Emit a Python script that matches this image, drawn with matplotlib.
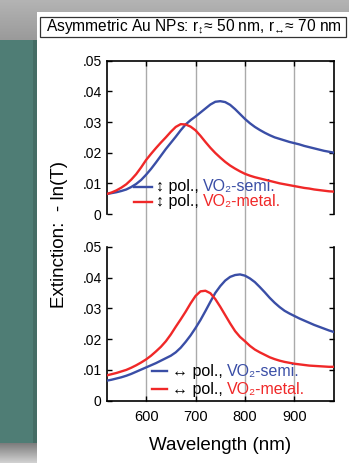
import matplotlib
matplotlib.use('Agg')
import matplotlib.pyplot as plt
import numpy as np
from matplotlib.patches import Rectangle
from matplotlib.lines import Line2D
from matplotlib.transforms import Affine2D

plt.rcParams['font.family'] = ['Liberation Sans', 'DejaVu Sans']
plt.rcParams['mathtext.fontset'] = 'custom'
plt.rcParams['mathtext.rm'] = 'Liberation Sans'
plt.rcParams['mathtext.it'] = 'Liberation Sans:italic'
plt.rcParams['mathtext.bf'] = 'Liberation Sans:bold'

# ---------------- data ----------------
wl = [520, 530, 540, 550, 560, 570, 580, 590, 600, 610, 620, 630, 640, 650,
      660, 670, 680, 690, 700, 710, 720, 730, 740, 750, 760, 770, 780, 790,
      800, 810, 820, 830, 840, 850, 860, 870, 880, 890, 900, 910, 920, 930,
      940, 950, 960, 970, 980]

# top panel (vertical polarisation)
top_semi = [0.0065, 0.0068, 0.0071, 0.0075, 0.0080, 0.0088, 0.0098, 0.0111,
            0.0128, 0.0147, 0.0168, 0.0190, 0.0212, 0.0232, 0.0252, 0.0273,
            0.0292, 0.0306, 0.0318, 0.0331, 0.0344, 0.0357, 0.0366, 0.0368,
            0.0365, 0.0356, 0.0342, 0.0326, 0.0310, 0.0296, 0.0284, 0.0274,
            0.0265, 0.0257, 0.0250, 0.0245, 0.0240, 0.0235, 0.0231, 0.0227,
            0.0222, 0.0218, 0.0214, 0.0210, 0.0206, 0.0203, 0.0200]
top_metal = [0.0065, 0.0070, 0.0077, 0.0086, 0.0097, 0.0112, 0.0130, 0.0152,
             0.0176, 0.0196, 0.0215, 0.0233, 0.0250, 0.0268, 0.0284, 0.0293,
             0.0292, 0.0285, 0.0273, 0.0255, 0.0235, 0.0216, 0.0199, 0.0184,
             0.0170, 0.0158, 0.0148, 0.0139, 0.0131, 0.0125, 0.0120, 0.0116,
             0.0112, 0.0108, 0.0104, 0.0100, 0.0097, 0.0094, 0.0091, 0.0088,
             0.0085, 0.0083, 0.0080, 0.0078, 0.0076, 0.0074, 0.0073]

# bottom panel (horizontal polarisation)
bot_semi = [0.0065, 0.0068, 0.0072, 0.0076, 0.0081, 0.0087, 0.0094, 0.0101,
            0.0108, 0.0115, 0.0122, 0.0130, 0.0138, 0.0146, 0.0157, 0.0172,
            0.0191, 0.0212, 0.0236, 0.0262, 0.0291, 0.0321, 0.0350, 0.0372,
            0.0390, 0.0402, 0.0408, 0.0410, 0.0406, 0.0397, 0.0385, 0.0369,
            0.0352, 0.0334, 0.0318, 0.0304, 0.0292, 0.0283, 0.0275, 0.0267,
            0.0260, 0.0253, 0.0246, 0.0240, 0.0234, 0.0228, 0.0223]
bot_metal = [0.0082, 0.0086, 0.0090, 0.0095, 0.0100, 0.0107, 0.0115, 0.0124,
             0.0134, 0.0146, 0.0160, 0.0175, 0.0193, 0.0215, 0.0240, 0.0264,
             0.0289, 0.0316, 0.0340, 0.0355, 0.0357, 0.0349, 0.0330, 0.0305,
             0.0278, 0.0251, 0.0226, 0.0207, 0.0193, 0.0178, 0.0166, 0.0157,
             0.0149, 0.0141, 0.0135, 0.0130, 0.0126, 0.0123, 0.0120, 0.0118,
             0.0116, 0.0114, 0.0113, 0.0112, 0.0111, 0.0110, 0.0110]

xticks = [600, 700, 800, 900]
xtick_labels = ['600', '700', '800', '900']
yticks = [0, 0.01, 0.02, 0.03, 0.04, 0.05]
ytick_labels = ['0', '.01', '.02', '.03', '.04', '.05']

BLUE = '#3a4ea6'
RED = '#f02828'

# ---------------- figure ----------------
W, H = 349, 463
fig = plt.figure(figsize=(W / 100, H / 100), dpi=100)
fig.patch.set_facecolor('white')
pix = Affine2D().scale(1.0 / W, -1.0 / H).translate(0, 1) + fig.transFigure

# background (slide)
bg = fig.add_axes([0, 0, 1, 1], zorder=-10)
bg.axis('off')


def vgrad(x0, x1, y0, y1, c0, c1):
    c0 = np.array(matplotlib.colors.to_rgb(c0))
    c1 = np.array(matplotlib.colors.to_rgb(c1))
    t = np.linspace(0, 1, 64)[:, None, None]
    img = c0 + (c1 - c0) * t
    img = np.repeat(img, 2, axis=1)
    bg.imshow(img, extent=(x0, x1, y1, y0), aspect='auto', interpolation='bilinear')


vgrad(0, W, 0, 40, '#b4b4b4', '#9a9a9a')
bg.add_patch(Rectangle((0, 40), 37, 403, facecolor='#4f7d75', edgecolor='none'))
bg.add_patch(Rectangle((33, 40), 4, 403, facecolor='#456d65', edgecolor='none'))
vgrad(0, 37, 443, H, '#7c7c7c', '#d2d2d2')
bg.add_patch(Rectangle((37, 12), W - 37, H - 12, facecolor='white', edgecolor='none'))
bg.set_xlim(0, W)
bg.set_ylim(H, 0)

# title box
bg.add_patch(Rectangle((40, 17), 306, 20, facecolor='white', edgecolor='#333333', lw=0.9))
fig.text(194 / W, 1 - 27.5 / H,
         'Asymmetric Au NPs: r$_\\mathrm{↕}$≈ 50 nm, r$_\\mathrm{↔}$≈ 70 nm',
         ha='center', va='center', fontsize=11.2, color='black')

# axes geometry in pixels
L, R = 106.5, 334.0
t_top, t_bot = 60.7, 214.0
b_top, b_bot = 246.7, 400.7
ax1 = fig.add_axes([L / W, 1 - t_bot / H, (R - L) / W, (t_bot - t_top) / H])
ax2 = fig.add_axes([L / W, 1 - b_bot / H, (R - L) / W, (b_bot - b_top) / H])

for ax in (ax1, ax2):
    ax.set_facecolor('none')
    ax.set_xlim(520, 980)
    ax.set_ylim(0, 0.05)
    ax.set_xticks(xticks)
    ax.set_yticks(yticks)
    ax.set_yticklabels(ytick_labels)
    ax.tick_params(axis='y', direction='in', left=True, right=True, length=3.8,
                   width=1.0, labelsize=10, pad=3.5)
    for s in ax.spines.values():
        s.set_linewidth(1.2)

ax1.spines['bottom'].set_visible(False)
ax2.spines['top'].set_visible(False)
ax1.tick_params(axis='x', direction='in', top=True, bottom=False, labeltop=False,
                labelbottom=False, length=3.8, width=1.0)
ax2.tick_params(axis='x', direction='in', top=False, bottom=True, length=3.8,
                width=1.0, labelsize=10.5, pad=6.5)
ax2.set_xticklabels(xtick_labels)

# vertical grid lines spanning both panels
span = (b_bot - t_top) / (t_bot - t_top)
for xv in xticks:
    ax1.axvline(xv, ymin=1 - span, ymax=1, color='#aaaaaa', lw=1.0, zorder=0,
                clip_on=False)

ax1.plot(wl, top_semi, color=BLUE, lw=1.7, zorder=3, solid_joinstyle='round')
ax1.plot(wl, top_metal, color=RED, lw=1.7, zorder=3, solid_joinstyle='round')
ax2.plot(wl, bot_semi, color=BLUE, lw=1.7, zorder=3, solid_joinstyle='round')
ax2.plot(wl, bot_metal, color=RED, lw=1.7, zorder=3, solid_joinstyle='round')

# legends (manual, with two-colour text)
fig.canvas.draw()
renderer = fig.canvas.get_renderer()


def legend_entry(x0, x1, y_line, x_text, y_base, arrow, name, color):
    fig.add_artist(Line2D([x0, x1], [y_line, y_line], transform=pix, color=color, lw=1.7))
    t1 = fig.text(x_text, y_base, arrow + ' pol.,', transform=pix, va='baseline',
                  ha='left', fontsize=11.5, color='black')
    bb = t1.get_window_extent(renderer=renderer)
    fig.text(x_text + bb.width + 4, y_base, name, transform=pix, va='baseline',
             ha='left', fontsize=11.5, color=color)


legend_entry(134, 152, 186.7, 156.5, 191.0, '↕', 'VO₂-semi.', BLUE)
legend_entry(134, 152, 201.7, 156.5, 206.0, '↕', 'VO₂-metal.', RED)
legend_entry(151.5, 167, 371.0, 172.0, 376.0, '↔', 'VO₂-semi.', BLUE)
legend_entry(151.5, 167, 389.0, 172.0, 394.0, '↔', 'VO₂-metal.', RED)

# axis labels
fig.text(60 / W, 1 - 235 / H, 'Extinction:  - ln(T)', rotation=90, ha='center',
         va='center', fontsize=13.5, color='black')
fig.text(220 / W, 1 - 445 / H, 'Wavelength (nm)', ha='center', va='center',
         fontsize=13.5, color='black')

fig.savefig('out.png', dpi=100)
